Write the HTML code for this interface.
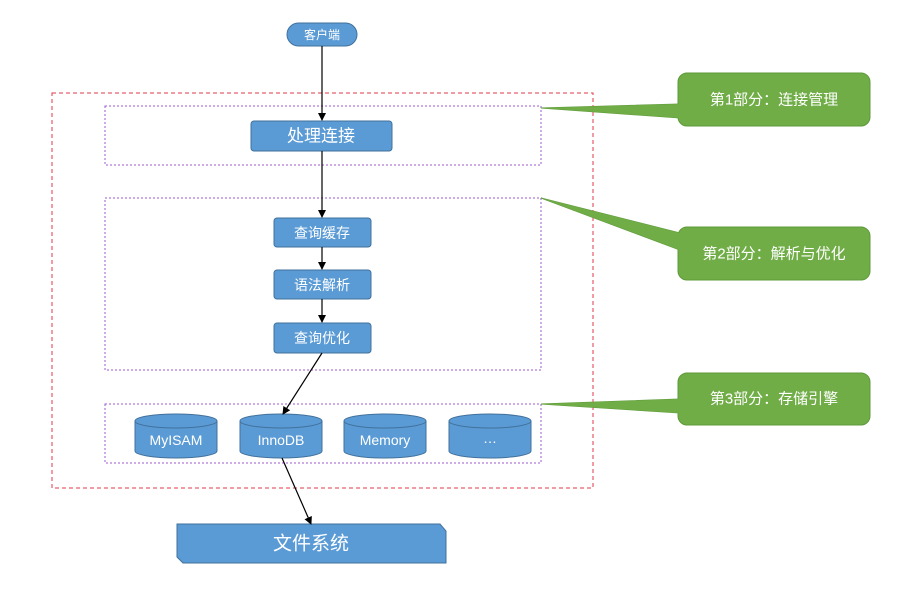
<!DOCTYPE html>
<html><head><meta charset="utf-8"><style>
body{margin:0;background:#fff}
text{font-family:"Liberation Sans","Noto Sans CJK SC",sans-serif;fill:#fff;text-anchor:middle;dominant-baseline:central}
</style></head><body>
<svg width="902" height="585" viewBox="0 0 902 585" xmlns="http://www.w3.org/2000/svg">
<defs><marker id="a" markerWidth="8" markerHeight="8" refX="7" refY="4" orient="auto" markerUnits="userSpaceOnUse"><path d="M0,0 L8,4 L0,8 Z" fill="#000"/></marker></defs>
<rect x="52" y="93" width="541" height="395" fill="none" stroke="#e0394a" stroke-dasharray="4,3"/>
<rect x="105" y="106" width="436" height="59" fill="none" stroke="#9b59d0" stroke-dasharray="2,2"/>
<rect x="105" y="198" width="436" height="172" fill="none" stroke="#9b59d0" stroke-dasharray="2,2"/>
<rect x="105" y="404" width="436" height="59" fill="none" stroke="#9b59d0" stroke-dasharray="2,2"/>
<!-- callouts -->
<g fill="#70ad47" stroke="#5e9a3a">
<path d="M541,108 L680,104 L680,118 Z"/><rect x="678" y="73" width="192" height="53" rx="9"/>
<path d="M541,198 L680,233 L680,250 Z"/><rect x="678" y="227" width="192" height="53" rx="9"/>
<path d="M541,404 L680,399 L680,413 Z"/><rect x="678" y="373" width="192" height="52" rx="9"/>
</g>
<path d="M541,108 L680,104 L680,118 Z M541,198 L680,233 L680,250 Z M541,404 L680,399 L680,413 Z" fill="#70ad47"/>
<text x="774" y="100" font-size="15">第1部分：连接管理</text>
<text x="774" y="254" font-size="15">第2部分：解析与优化</text>
<text x="774" y="399" font-size="15">第3部分：存储引擎</text>
<!-- nodes -->
<g fill="#5b9bd5" stroke="#41719c">
<rect x="287" y="23" width="70" height="23" rx="11.5"/>
<rect x="251" y="121" width="141" height="30" rx="3"/>
<rect x="274" y="218" width="97" height="29" rx="3"/>
<rect x="274" y="270" width="97" height="29" rx="3"/>
<rect x="274" y="323" width="97" height="30" rx="3"/>
<path d="M177,524 L440,524 L446,531 L446,563 L183,563 L177,557 Z"/>
</g>
<text x="322" y="35" font-size="12">客户端</text>
<text x="321" y="136" font-size="17">处理连接</text>
<text x="322" y="233" font-size="14">查询缓存</text>
<text x="322" y="285" font-size="14">语法解析</text>
<text x="322" y="338" font-size="14">查询优化</text>
<text x="311" y="544" font-size="19">文件系统</text>
<!-- cylinders -->
<g fill="#5b9bd5" stroke="#41719c">
<path d="M135,421 v30 a41,7 0 0 0 82,0 v-30"/><ellipse cx="176" cy="421" rx="41" ry="7"/>
<path d="M240,421 v30 a41,7 0 0 0 82,0 v-30"/><ellipse cx="281" cy="421" rx="41" ry="7"/>
<path d="M344,421 v30 a41,7 0 0 0 82,0 v-30"/><ellipse cx="385" cy="421" rx="41" ry="7"/>
<path d="M449,421 v30 a41,7 0 0 0 82,0 v-30"/><ellipse cx="490" cy="421" rx="41" ry="7"/>
</g>
<text x="176" y="440" font-size="14">MyISAM</text>
<text x="281" y="440" font-size="14">InnoDB</text>
<text x="385" y="440" font-size="14">Memory</text>
<text x="490" y="438" font-size="14">…</text>
<!-- arrows -->
<g stroke="#000" stroke-width="1.2" marker-end="url(#a)">
<line x1="322" y1="46" x2="322" y2="120"/>
<line x1="322" y1="151" x2="322" y2="217"/>
<line x1="322" y1="247" x2="322" y2="269"/>
<line x1="322" y1="299" x2="322" y2="322"/>
<line x1="322" y1="353" x2="283" y2="414"/>
<line x1="282" y1="458" x2="311" y2="524"/>
</g>
</svg>
</body></html>
